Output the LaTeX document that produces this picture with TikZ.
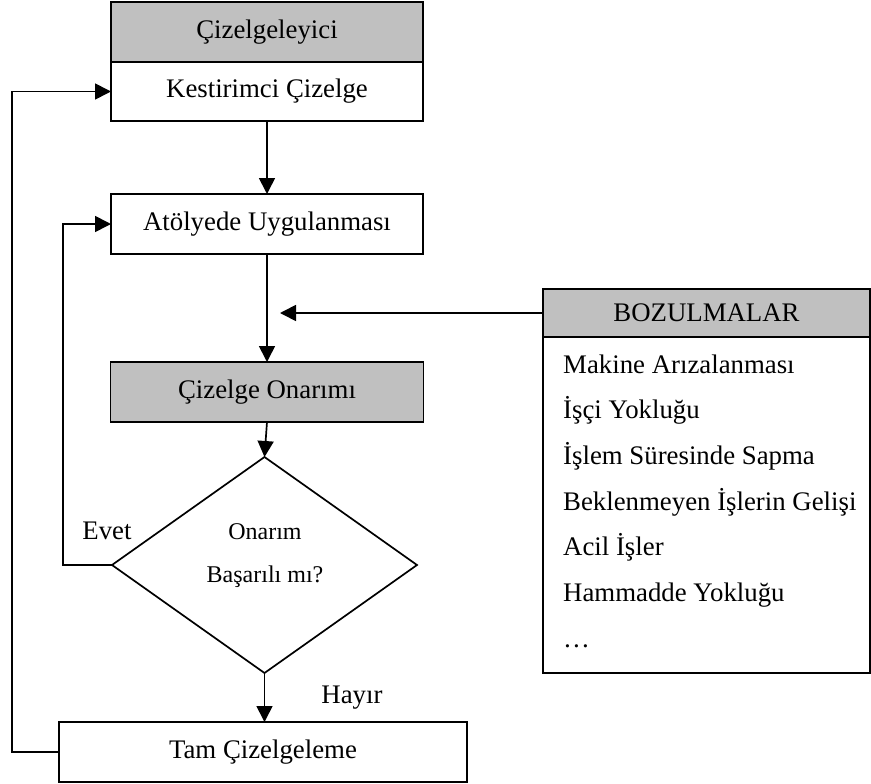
\documentclass[tikz,border=0pt]{standalone}
\usepackage{fontspec}
\setmainfont{Liberation Serif}
\usetikzlibrary{arrows.meta,shapes.geometric}
\definecolor{hdrgray}{HTML}{C0C0C0}
\tikzset{
  every node/.style={font=\fontsize{26.8pt}{31pt}\selectfont},
  box/.style={draw, line width=1.7pt, inner sep=0pt, outer sep=0pt, fill=white},
  hdr/.style={box, fill=hdrgray},
  arr/.style={line width=1.7pt, -{Triangle[length=16pt,width=16pt]}},
  small/.style={font=\fontsize{24pt}{28pt}\selectfont},
  item/.style={anchor=base west, inner sep=0pt}
}
\begin{document}
\begin{tikzpicture}[x=1pt, y=-1pt]
\useasboundingbox (0,0) rectangle (871,784);

% main column
\node[hdr, minimum width=312pt, minimum height=60pt] (sched) at (267,32) {Çizelgeleyici};
\node[box, minimum width=312pt, minimum height=59pt] (pred) at (267,91.5) {Kestirimci Çizelge};
\node[box, minimum width=312pt, minimum height=60pt] (work) at (267,224) {Atölyede Uygulanması};
\node[hdr, minimum width=313pt, minimum height=60pt] (repair) at (267,392) {Çizelge Onarımı};
\node[draw, diamond, line width=1.7pt, inner sep=0pt, outer sep=0pt,
      minimum width=305pt, minimum height=216pt] (dec) at (264.5,565) {};
\node[small] (q1) at (265,532) {Onarım};
\node[small] (q2) at (265,577) {Başarılı mı?};
\node[box, minimum width=408pt, minimum height=60pt] (full) at (263,752) {Tam Çizelgeleme};

% branch labels
\node (yes) at (107,531) {Evet};
\node (no) at (352,698) {Hayır};

% disruptions list
\node[hdr, minimum width=327pt, minimum height=48pt] (dis) at (706.5,313) {BOZULMALAR};
\node[box, minimum width=327pt, minimum height=336pt, anchor=north] (dislist) at (dis.south) {};
\node[item] (d1) at (563,373) {Makine Arızalanması};
\node[item] (d2) at (563,418.5) {İşçi Yokluğu};
\node[item] (d3) at (563,464) {İşlem Süresinde Sapma};
\node[item] (d4) at (563,510) {Beklenmeyen İşlerin Gelişi};
\node[item] (d5) at (563,555) {Acil İşler};
\node[item] (d6) at (563,601) {Hammadde Yokluğu};
\node[item] (d7) at (563,647) {…};

% connectors
\coordinate (hit) at (280,313);
\coordinate (evetc) at (63,565);
\coordinate (loopc) at (12,752);

\draw[arr] (pred.south) -- (work.north);
\draw[arr] (work.south) -- (repair.north);
\draw[arr] (dis.west) -- (hit);
\draw[arr] (repair.south) -- (dec.north);
\draw[arr] (dec.south) -- (dec.south |- full.north);
\draw[arr] (dec.west) -- (evetc) |- (work.west);
\draw[arr] (full.west) -- (loopc) |- (pred.west);
\end{tikzpicture}
\end{document}
